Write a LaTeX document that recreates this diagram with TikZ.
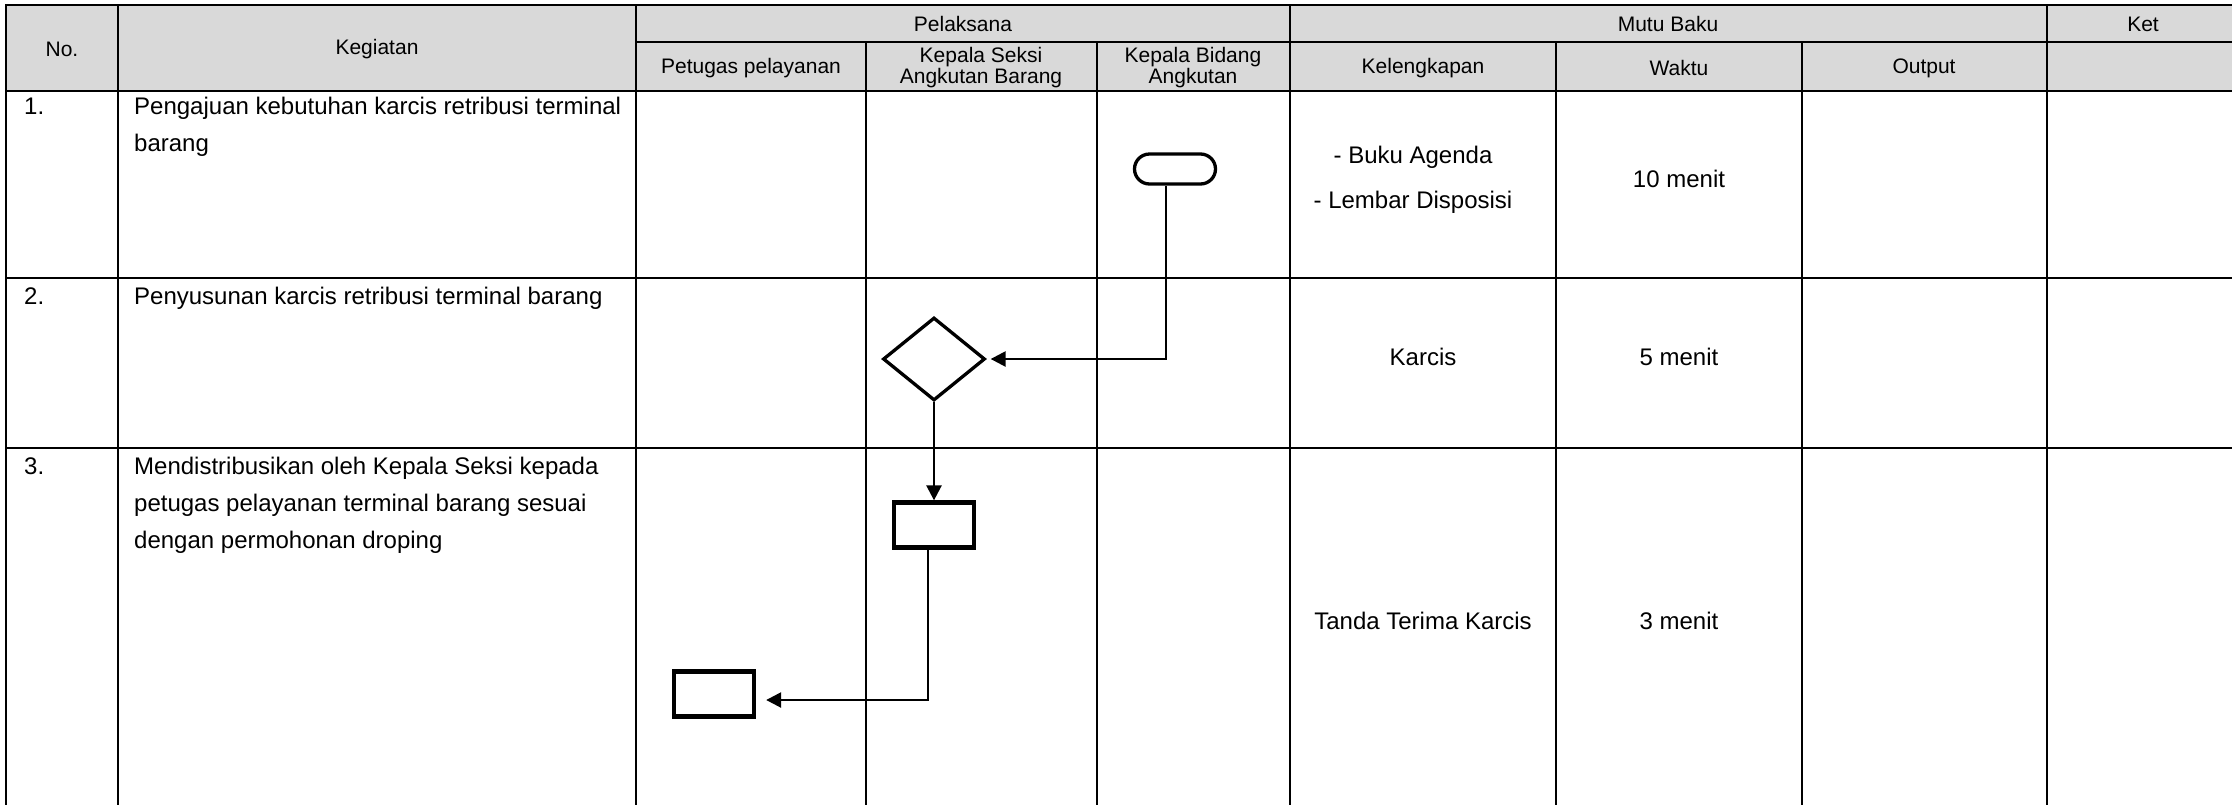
\documentclass[tikz,border=0pt]{standalone}
\usepackage{fontspec}
\setmainfont{Liberation Sans}
\usetikzlibrary{arrows.meta, shapes.geometric}

\begin{document}
\begin{tikzpicture}[x=1pt, y=-1pt]
\tikzstyle{grid}=[line width=2.6pt, line cap=rect]
\tikzstyle{head}=[inner sep=0pt, align=center, font=\fontsize{21}{21}\selectfont]
\tikzstyle{cell}=[inner sep=0pt, anchor=base west, align=left, font=\fontsize{24}{37}\selectfont]
\tikzstyle{mutu}=[inner sep=0pt, align=center, font=\fontsize{24}{45}\selectfont]
\tikzstyle{terminal}=[draw, line width=3.3pt, rectangle, rounded corners=15pt, minimum width=81pt, minimum height=30pt]
\tikzstyle{decision}=[draw, line width=3.3pt, diamond, inner sep=0pt, minimum width=102pt, minimum height=83pt]
\tikzstyle{process}=[draw, line width=4.3pt, rectangle, minimum width=80pt, minimum height=45pt]
\tikzstyle{flow}=[line width=2.5pt, -{Triangle[length=15pt, width=15pt]}]

\clip (0,0) rectangle (2232,804);
% header band
\fill[black!15] (6,5) rectangle (2240,91);
% table rules
\draw[grid] (6,5) -- (2240,5) (636,42) -- (2240,42) (6,91) -- (2240,91)
            (6,278) -- (2240,278) (6,448) -- (2240,448);
\draw[grid] (6,5) -- (6,810) (118,5) -- (118,810) (636,5) -- (636,810)
            (1290,5) -- (1290,810) (2047,5) -- (2047,810);
\draw[grid] (866,42) -- (866,810) (1097,42) -- (1097,810)
            (1556,42) -- (1556,810) (1802,42) -- (1802,810);

% header
\node[head] (hno) at (62,49) {No.};
\node[head] (hkeg) at (377,49) {Kegiatan};
\node[head] (hpel) at (963,24) {Pelaksana};
\node[head] (hmutu) at (1668,24) {Mutu Baku};
\node[head] (hket) at (2143,24) {Ket};
\node[head] (hpetugas) at (751,68) {Petugas pelayanan};
\node[head] (hseksi) at (981,68) {Kepala Seksi\\Angkutan Barang};
\node[head] (hbidang) at (1193,68) {Kepala Bidang\\Angkutan};
\node[head] (hlengkap) at (1423,68) {Kelengkapan};
\node[head] (hwaktu) at (1679,68) {Waktu};
\node[head] (houtput) at (1924,68) {Output};

% activities (base = last line)
\node[cell] (no1) at (24,114) {1.};
\node[cell] (keg1) at (134,151) {Pengajuan kebutuhan karcis retribusi terminal\\barang};
\node[cell] (no2) at (24,304) {2.};
\node[cell] (keg2) at (134,304) {Penyusunan karcis retribusi terminal barang};
\node[cell] (no3) at (24,474) {3.};
\node[cell] (keg3) at (134,548) {Mendistribusikan oleh Kepala Seksi kepada\\petugas pelayanan terminal barang sesuai\\dengan permohonan droping};

% mutu baku
\node[mutu] (lengkap1) at (1413,180) {- Buku Agenda\\- Lembar Disposisi};
\node[mutu] (waktu1) at (1679,179) {10 menit};
\node[mutu] (lengkap2) at (1423,357) {Karcis};
\node[mutu] (waktu2) at (1679,357) {5 menit};
\node[mutu] (lengkap3) at (1423,621) {Tanda Terima Karcis};
\node[mutu] (waktu3) at (1679,621) {3 menit};

% flow
\node[terminal] (term) at (1175,169) {};
\node[decision] (dec) at (934,359) {};
\node[process] (proc1) at (934,525) {};
\node[process] (proc2) at (714,694) {};
\draw[flow] ([xshift=-9pt]term.south) |- ([xshift=4pt]dec.east);
\draw[flow] (dec.south) -- (proc1.north);
\draw[flow] ([xshift=-6pt]proc1.south) |- ([xshift=10pt, yshift=-6pt]proc2.east);

\end{tikzpicture}
\end{document}
